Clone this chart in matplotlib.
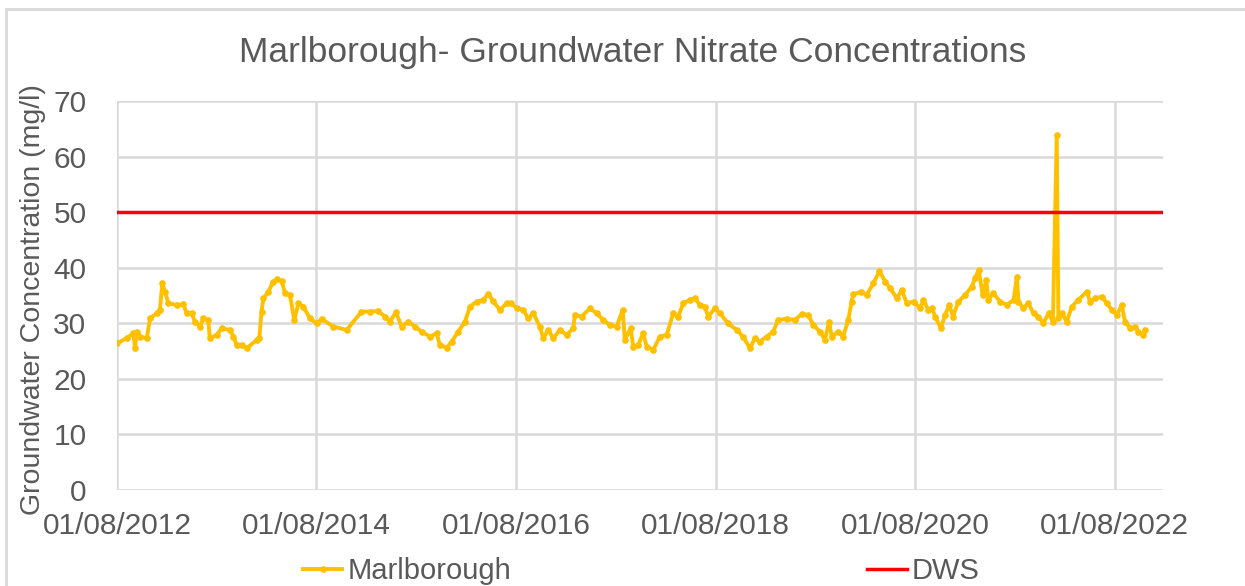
# Marlborough groundwater nitrate chart
import pandas as pd
import matplotlib.pyplot as plt
import matplotlib.dates as mdates
from matplotlib.patches import Rectangle

plt.rcParams['font.family'] = ['Liberation Sans', 'DejaVu Sans']

# values
dates = [
    "2012-08-01", "2012-09-05", "2012-09-30", "2012-10-06", "2012-10-12", "2012-10-24",
    "2012-11-18", "2012-11-30", "2012-12-24", "2013-01-05", "2013-01-14", "2013-01-24",
    "2013-02-05", "2013-03-07", "2013-04-01", "2013-04-13", "2013-05-01", "2013-05-13",
    "2013-06-01", "2013-06-13", "2013-07-01", "2013-07-07", "2013-08-01", "2013-08-19",
    "2013-09-19", "2013-10-01", "2013-10-13", "2013-10-31", "2013-11-19", "2013-12-25",
    "2014-01-04", "2014-01-12", "2014-01-19", "2014-02-06", "2014-02-24", "2014-03-08",
    "2014-03-27", "2014-04-08", "2014-04-26", "2014-05-12", "2014-05-27", "2014-06-14",
    "2014-07-08", "2014-08-02", "2014-08-20", "2014-10-02", "2014-11-20", "2015-01-13",
    "2015-02-13", "2015-03-15", "2015-04-09", "2015-04-27", "2015-05-19", "2015-06-09",
    "2015-07-03", "2015-07-28", "2015-08-21", "2015-09-21", "2015-10-15", "2015-10-27",
    "2015-11-21", "2015-12-09", "2016-01-02", "2016-01-27", "2016-02-14", "2016-03-09",
    "2016-04-03", "2016-04-21", "2016-05-09", "2016-06-03", "2016-06-27", "2016-07-15",
    "2016-08-03", "2016-08-27", "2016-09-14", "2016-10-03", "2016-10-27", "2016-11-08",
    "2016-11-27", "2016-12-15", "2017-01-08", "2017-02-02", "2017-02-26", "2017-03-04",
    "2017-03-29", "2017-04-28", "2017-05-23", "2017-06-16", "2017-07-10", "2017-08-04",
    "2017-08-26", "2017-09-03", "2017-09-24", "2017-10-04", "2017-10-22", "2017-11-09",
    "2017-11-22", "2017-12-16", "2018-01-09", "2018-02-03", "2018-02-27", "2018-03-17",
    "2018-04-05", "2018-04-29", "2018-05-17", "2018-06-05", "2018-06-23", "2018-07-05",
    "2018-07-30", "2018-08-17", "2018-09-16", "2018-10-17", "2018-11-10", "2018-12-05",
    "2018-12-23", "2019-01-10", "2019-02-04", "2019-02-28", "2019-03-18", "2019-04-18",
    "2019-05-18", "2019-06-12", "2019-07-06", "2019-07-25", "2019-08-18", "2019-09-05",
    "2019-09-21", "2019-09-30", "2019-10-24", "2019-11-11", "2019-11-30", "2019-12-12",
    "2019-12-18", "2020-01-17", "2020-02-05", "2020-03-01", "2020-03-23", "2020-04-13",
    "2020-05-01", "2020-05-26", "2020-06-13", "2020-07-01", "2020-07-26", "2020-08-19",
    "2020-08-31", "2020-09-18", "2020-10-01", "2020-10-13", "2020-11-03", "2020-11-18",
    "2020-12-04", "2020-12-17", "2021-01-06", "2021-01-31", "2021-02-24", "2021-03-08",
    "2021-03-21", "2021-04-05", "2021-04-18", "2021-04-26", "2021-05-14", "2021-06-08",
    "2021-07-02", "2021-07-27", "2021-08-08", "2021-08-14", "2021-09-01", "2021-09-19",
    "2021-10-08", "2021-10-26", "2021-11-13", "2021-12-02", "2021-12-18", "2022-01-01",
    "2022-01-07", "2022-01-20", "2022-02-07", "2022-02-25", "2022-03-21", "2022-04-21",
    "2022-05-03", "2022-05-21", "2022-06-15", "2022-07-03", "2022-07-22", "2022-08-09",
    "2022-08-27", "2022-09-08", "2022-09-27", "2022-10-15", "2022-10-27", "2022-11-12",
    "2022-11-20",
]
nitrate = [
    26.4, 27.3, 28.2, 25.5, 28.5, 27.6,
    27.3, 30.9, 31.8, 32.4, 37.2, 35.7,
    33.6, 33.3, 33.4, 31.8, 31.8, 30.3,
    29.4, 30.9, 30.6, 27.3, 27.9, 29.1,
    28.8, 27.6, 26.1, 26.1, 25.5, 27.0,
    27.3, 32.1, 34.5, 35.7, 37.5, 37.9,
    37.6, 35.4, 35.1, 30.6, 33.6, 33.0,
    30.9, 30.0, 30.8, 29.4, 28.8, 32.1,
    32.1, 32.2, 31.2, 30.3, 32.0, 29.4,
    30.3, 29.4, 28.5, 27.6, 28.2, 26.1,
    25.6, 26.7, 28.5, 30.3, 33.0, 33.9,
    34.2, 35.3, 34.0, 32.4, 33.6, 33.6,
    32.7, 32.4, 30.9, 31.8, 29.4, 27.3,
    28.8, 27.3, 28.8, 27.9, 29.1, 31.5,
    31.2, 32.7, 31.8, 30.6, 29.7, 29.4,
    32.4, 27.0, 29.1, 25.8, 26.1, 28.2,
    25.8, 25.2, 27.6, 27.9, 31.8, 31.2,
    33.6, 34.2, 34.5, 33.3, 33.0, 31.2,
    32.7, 31.8, 30.0, 28.8, 27.6, 25.5,
    27.3, 26.7, 27.6, 28.5, 30.6, 30.8,
    30.6, 31.6, 31.5, 29.7, 28.5, 27.0,
    30.3, 27.6, 28.5, 27.6, 30.6, 33.9,
    35.2, 35.7, 35.1, 37.2, 39.4, 37.5,
    36.3, 34.5, 36.0, 33.6, 33.9, 32.7,
    34.2, 32.4, 32.7, 31.2, 29.1, 31.5,
    33.3, 31.2, 33.9, 35.1, 36.6, 38.1,
    39.6, 35.1, 37.8, 34.2, 35.4, 33.9,
    33.3, 34.2, 38.4, 33.9, 32.7, 33.6,
    31.8, 31.2, 30.0, 31.8, 30.3, 63.9,
    30.9, 31.8, 30.3, 33.0, 34.2, 35.7,
    33.9, 34.5, 34.8, 33.6, 32.4, 31.5,
    33.3, 30.3, 29.1, 29.4, 28.5, 27.9,
    28.8,
]
dws_limit = 50
x_ticks = ["2012-08-01", "2014-08-01", "2016-08-01", "2018-08-01", "2020-08-01", "2022-08-01"]
x_limits = ["2012-08-01", "2023-01-25"]

dates = pd.to_datetime(dates)
x_ticks = pd.to_datetime(x_ticks)
x_limits = pd.to_datetime(x_limits)

grey = "#595959"
fig = plt.figure(figsize=(12.45, 5.86), dpi=100)
ax = fig.add_axes([117/1245, 96/586, (1163-117)/1245, (490-101)/586])

ax.plot(dates, nitrate, color="#FFC000", lw=2.8, marker="o", markersize=3.8,
        label="Marlborough", zorder=3)
ax.axhline(dws_limit, color="#FF0000", lw=2.5, label="DWS", zorder=4)

ax.set_xlim(x_limits)
ax.set_ylim(0, 70)
ax.set_yticks(range(0, 71, 10))
ax.set_xticks(x_ticks)
ax.xaxis.set_major_formatter(mdates.DateFormatter("%d/%m/%Y"))
ax.grid(True, color="#D9D9D9", lw=1.8)
ax.set_axisbelow(True)
for s in ax.spines.values():
    s.set_visible(False)
ax.tick_params(length=0, labelsize=21.5, colors=grey)
ax.tick_params(axis="x", pad=16)
ax.tick_params(axis="y", pad=22)

ax.set_ylabel("Groundwater Concentration (mg/l)", fontsize=20.5, color=grey)
ax.yaxis.set_label_coords(-0.068, 0.49)
fig.text(0.508, 0.91, "Marlborough- Groundwater Nitrate Concentrations",
         ha="center", va="center", fontsize=25.5, color=grey)

fig.legend(loc="center", bbox_to_anchor=(0.515, 0.026), ncol=2, frameon=False,
           fontsize=21, labelcolor=grey, handlelength=1.37, handletextpad=0.17,
           columnspacing=12.2)

# light chart border (only left and top edges are inside the picture)
fig.patches.append(Rectangle((6/1245, -0.1), 1.2, 1.1 - 9/586, transform=fig.transFigure,
                             fill=False, ec="#D9D9D9", lw=2))

fig.savefig("out.png", dpi=100)
